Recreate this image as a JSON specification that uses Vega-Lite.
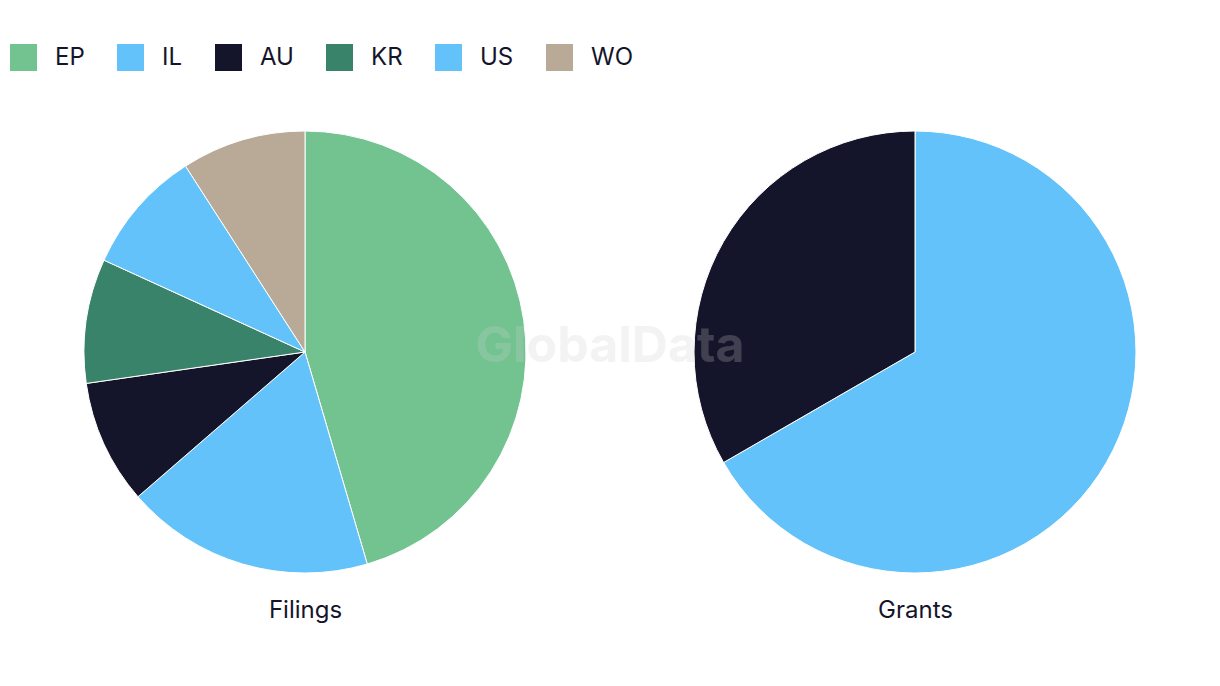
{
  "$schema": "https://vega.github.io/schema/vega-lite/v6.json",
  "width": 1220,
  "height": 686,
  "autosize": {"type": "fit", "contains": "padding"},
  "padding": {"top": 18, "bottom": 0, "left": 0, "right": 0},
  "background": "white",
  "config": {"view": {"stroke": null}, "font": "Inter"},
  "layer": [
    {
      "data": {
        "values": [
          {"chart": "Filings", "code": "EP", "value": 5},
          {"chart": "Filings", "code": "IL", "value": 2},
          {"chart": "Filings", "code": "AU", "value": 1},
          {"chart": "Filings", "code": "KR", "value": 1},
          {"chart": "Filings", "code": "US", "value": 1},
          {"chart": "Filings", "code": "WO", "value": 1},
          {"chart": "Grants", "code": "US", "value": 2},
          {"chart": "Grants", "code": "AU", "value": 1}
        ]
      },
      "transform": [
        {
          "stack": "value",
          "groupby": ["chart"],
          "sort": [{"field": "value", "order": "descending"}, {"field": "code", "order": "ascending"}],
          "offset": "normalize",
          "as": ["t0", "t1"]
        }
      ],
      "mark": {"type": "arc", "outerRadius": 221, "stroke": "white", "strokeWidth": 1},
      "encoding": {
        "x": {
          "field": "chart",
          "type": "nominal",
          "sort": ["Filings", "Grants"],
          "scale": {"type": "point", "padding": 0.5},
          "axis": {
            "orient": "bottom",
            "title": null,
            "domain": false,
            "ticks": false,
            "tickSize": 0,
            "grid": false,
            "offset": -88,
            "labelPadding": 0,
            "labelBaseline": "top",
            "labelFont": "Inter",
            "labelFontSize": 24,
            "labelColor": "#14152b",
            "labelAngle": 0
          }
        },
        "theta": {"field": "t0", "type": "quantitative", "scale": {"domain": [0, 1]}},
        "theta2": {"field": "t1"},
        "color": {
          "field": "code",
          "type": "nominal",
          "scale": {
            "domain": ["EP", "IL", "AU", "KR", "US", "WO"],
            "range": ["#73c391", "#62c2f9", "#14152b", "#3a836b", "#62c2f9", "#b8aa96"]
          },
          "legend": {
            "orient": "none",
            "legendX": 10,
            "legendY": 26,
            "direction": "horizontal",
            "title": null,
            "symbolType": "square",
            "symbolSize": 729,
            "symbolStrokeWidth": 0,
            "labelFont": "Inter",
            "labelFontSize": 24,
            "labelColor": "#14152b",
            "labelOffset": 18,
            "columnPadding": 32,
            "padding": 0
          }
        }
      }
    },
    {
      "data": {"values": [{"label": "GlobalData"}]},
      "mark": {
        "type": "text",
        "font": "Inter",
        "fontWeight": "bold",
        "fontSize": 50,
        "color": "#d0d0d0",
        "opacity": 0.23,
        "baseline": "alphabetic",
        "align": "center",
        "dy": 10
      },
      "encoding": {"text": {"field": "label", "type": "nominal"}}
    }
  ]
}
